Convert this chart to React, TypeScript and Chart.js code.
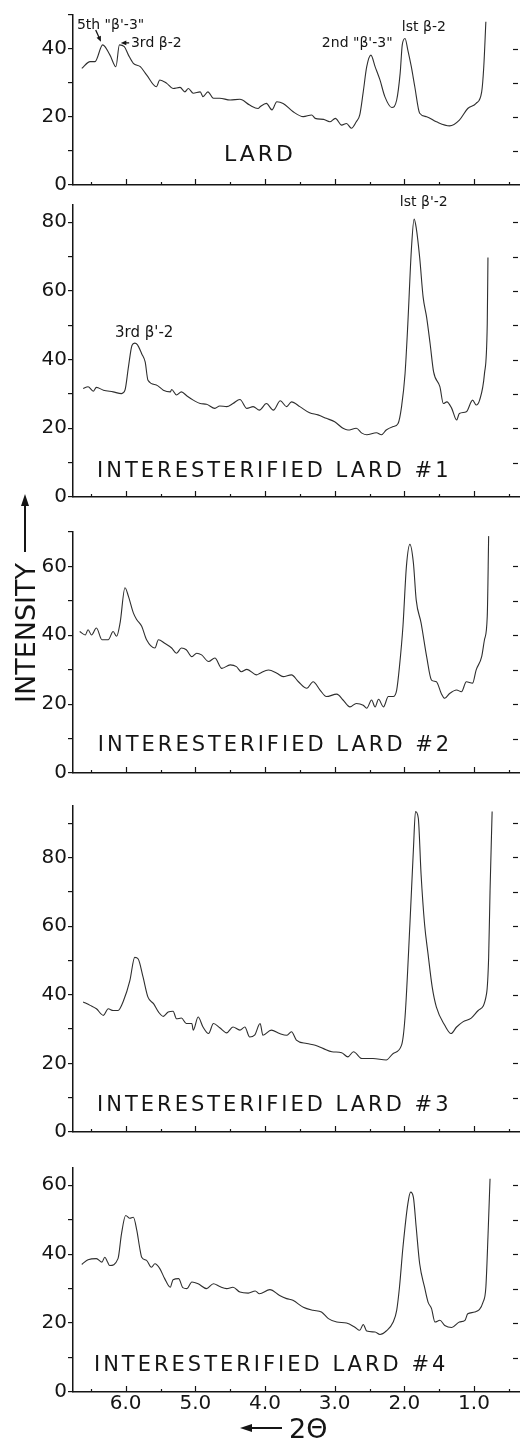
import React, { useEffect, useRef } from 'react';
import { Chart, registerables } from 'chart.js';

Chart.register(...registerables);

// ---------- data (2θ in degrees, intensity) ----------
const lardX = [6.63, 6.51, 6.44, 6.33, 6.225, 6.14, 6.09, 6.02, 5.96, 5.89, 5.79, 5.70, 5.56, 5.51, 5.41, 5.32, 5.22, 5.15, 5.10, 5.03, 4.93, 4.89, 4.82, 4.74, 4.65, 4.50, 4.36, 4.22, 4.10, 4.07, 3.98, 3.90, 3.83, 3.74, 3.60, 3.45, 3.33, 3.28, 3.16, 3.07, 2.99, 2.90, 2.83, 2.76, 2.69, 2.64, 2.59, 2.54, 2.48, 2.42, 2.35, 2.28, 2.18, 2.11, 2.06, 2.03, 1.99, 1.95, 1.90, 1.85, 1.78, 1.68, 1.54, 1.35, 1.21, 1.09, 0.97, 0.89, 0.86, 0.83];
const lardY = [34.3, 36.3, 36.3, 41.2, 38.2, 34.8, 41.2, 40.7, 38.2, 35.8, 34.8, 32.4, 28.9, 30.9, 29.9, 28.4, 28.7, 27.4, 28.4, 27.0, 27.4, 26.0, 27.4, 25.5, 25.5, 25.0, 25.2, 23.5, 22.5, 23.0, 24.0, 22.1, 24.5, 24.0, 21.6, 20.1, 20.6, 19.6, 19.3, 18.6, 19.6, 17.6, 18.1, 16.7, 18.6, 20.6, 27.4, 34.8, 38.2, 34.8, 30.9, 26.0, 22.8, 25.0, 32.9, 41.2, 43.1, 39.7, 34.8, 28.9, 21.1, 20.1, 18.6, 17.4, 19.1, 22.5, 24.0, 27.4, 34.8, 48.0];

const ie1X = [6.61, 6.54, 6.465, 6.42, 6.32, 6.18, 6.06, 6.01, 5.96, 5.91, 5.87, 5.83, 5.77, 5.72, 5.68, 5.56, 5.46, 5.36, 5.34, 5.27, 5.20, 5.12, 5.03, 4.93, 4.84, 4.72, 4.65, 4.55, 4.46, 4.36, 4.26, 4.17, 4.08, 3.98, 3.88, 3.78, 3.69, 3.62, 3.50, 3.36, 3.24, 3.12, 3.00, 2.88, 2.81, 2.69, 2.61, 2.54, 2.40, 2.33, 2.26, 2.16, 2.09, 2.04, 1.99, 1.95, 1.90, 1.86, 1.83, 1.78, 1.73, 1.68, 1.63, 1.58, 1.49, 1.44, 1.39, 1.32, 1.25, 1.21, 1.11, 1.02, 0.97, 0.92, 0.85, 0.81, 0.80];
const ie1Y = [31.6, 32.1, 30.8, 31.9, 31.1, 30.6, 30.1, 31.1, 37.9, 44.1, 44.8, 44.3, 41.7, 39.3, 34.0, 32.6, 31.1, 30.6, 31.3, 29.7, 30.6, 29.4, 28.2, 27.2, 27.0, 25.8, 26.5, 26.3, 27.2, 28.4, 25.8, 26.3, 25.3, 27.2, 25.3, 28.0, 26.3, 27.7, 26.3, 24.5, 23.9, 22.9, 21.9, 20.0, 19.5, 20.0, 18.6, 18.1, 18.7, 18.1, 19.5, 20.5, 21.4, 26.3, 35.9, 50.4, 71.7, 80.9, 78.4, 69.7, 58.1, 52.3, 44.6, 36.4, 32.1, 27.2, 27.7, 25.8, 22.4, 24.3, 24.8, 28.2, 26.8, 28.2, 35.9, 50.4, 69.7];

const ie2X = [6.66, 6.58, 6.54, 6.49, 6.42, 6.34, 6.25, 6.18, 6.13, 6.08, 6.01, 5.96, 5.89, 5.84, 5.77, 5.70, 5.58, 5.53, 5.44, 5.34, 5.27, 5.20, 5.13, 5.05, 4.98, 4.91, 4.81, 4.72, 4.62, 4.50, 4.41, 4.34, 4.26, 4.12, 4.07, 3.95, 3.83, 3.74, 3.62, 3.52, 3.40, 3.31, 3.21, 3.12, 2.97, 2.88, 2.78, 2.69, 2.59, 2.54, 2.47, 2.42, 2.37, 2.30, 2.23, 2.16, 2.11, 2.07, 2.02, 1.97, 1.92, 1.87, 1.83, 1.76, 1.68, 1.61, 1.54, 1.47, 1.42, 1.35, 1.25, 1.18, 1.11, 1.02, 0.97, 0.89, 0.85, 0.81, 0.79];
const ie2Y = [41.1, 40.1, 41.6, 40.1, 42.1, 38.7, 38.7, 41.1, 39.7, 43.6, 53.8, 51.3, 46.5, 44.5, 42.6, 38.7, 36.3, 38.7, 37.7, 36.3, 34.8, 36.3, 35.8, 33.8, 34.8, 34.3, 32.4, 33.4, 30.4, 31.4, 30.9, 29.4, 30.1, 28.5, 29.0, 29.9, 29.0, 28.0, 28.5, 26.5, 24.6, 26.5, 24.1, 22.2, 22.9, 21.2, 19.2, 20.2, 19.7, 18.8, 21.2, 19.2, 21.4, 19.2, 22.2, 22.2, 24.1, 30.9, 42.6, 60.1, 66.4, 61.0, 50.3, 43.6, 33.8, 27.0, 26.5, 23.1, 21.7, 23.1, 24.1, 23.6, 26.5, 26.1, 29.9, 33.8, 38.7, 45.5, 68.8];

const ie3X = [6.61, 6.51, 6.42, 6.32, 6.25, 6.18, 6.11, 6.03, 5.94, 5.87, 5.82, 5.75, 5.68, 5.60, 5.53, 5.46, 5.39, 5.32, 5.27, 5.20, 5.13, 5.05, 5.03, 4.96, 4.89, 4.81, 4.74, 4.65, 4.55, 4.46, 4.36, 4.29, 4.22, 4.15, 4.07, 4.03, 3.91, 3.79, 3.69, 3.62, 3.55, 3.40, 3.28, 3.16, 3.04, 2.90, 2.81, 2.73, 2.61, 2.45, 2.26, 2.16, 2.04, 1.99, 1.92, 1.87, 1.84, 1.80, 1.76, 1.71, 1.66, 1.60, 1.54, 1.42, 1.33, 1.25, 1.16, 1.04, 0.94, 0.82, 0.79, 0.77, 0.74];
const ie3Y = [37.9, 36.9, 35.9, 34.0, 35.9, 35.4, 35.4, 38.3, 44.1, 50.9, 50.4, 45.1, 39.3, 37.4, 35.0, 33.7, 35.0, 35.2, 33.0, 33.2, 31.6, 31.6, 29.7, 33.5, 30.6, 28.7, 31.6, 30.4, 28.9, 30.6, 29.7, 30.6, 27.7, 28.2, 31.6, 28.2, 29.7, 28.7, 28.2, 29.2, 26.8, 25.8, 25.3, 24.3, 23.4, 23.1, 21.9, 23.4, 21.4, 21.4, 21.0, 22.9, 25.3, 33.5, 60.6, 82.3, 93.4, 91.5, 75.1, 60.6, 51.9, 42.2, 36.4, 31.1, 28.7, 30.6, 32.1, 33.2, 35.4, 40.3, 50.9, 70.2, 93.4];

const ie4X = [6.63, 6.54, 6.42, 6.34, 6.30, 6.26, 6.23, 6.11, 6.06, 6.00, 5.94, 5.89, 5.84, 5.80, 5.77, 5.70, 5.63, 5.58, 5.51, 5.44, 5.36, 5.32, 5.24, 5.18, 5.12, 5.05, 4.96, 4.84, 4.74, 4.65, 4.55, 4.46, 4.36, 4.24, 4.14, 4.08, 3.93, 3.79, 3.69, 3.60, 3.45, 3.31, 3.19, 3.09, 2.97, 2.83, 2.71, 2.64, 2.59, 2.54, 2.42, 2.35, 2.26, 2.16, 2.11, 2.07, 2.02, 1.95, 1.91, 1.87, 1.83, 1.78, 1.71, 1.66, 1.61, 1.56, 1.49, 1.42, 1.32, 1.21, 1.13, 1.09, 0.99, 0.87, 0.83, 0.80, 0.77];
const ie4Y = [37.0, 38.4, 38.7, 37.7, 39.1, 37.7, 36.7, 38.7, 45.9, 51.2, 50.4, 50.7, 46.9, 42.0, 39.1, 38.2, 36.2, 37.2, 35.8, 32.9, 30.4, 32.6, 32.9, 30.3, 30.0, 31.9, 31.4, 30.0, 31.4, 30.6, 30.0, 30.4, 29.0, 28.7, 29.3, 28.5, 29.7, 28.0, 27.1, 26.6, 24.6, 23.7, 23.2, 21.3, 20.3, 20.0, 18.8, 17.9, 19.6, 17.7, 17.4, 16.7, 17.7, 20.3, 23.7, 30.4, 42.0, 54.6, 58.0, 56.5, 47.8, 37.2, 30.4, 26.1, 24.2, 20.3, 20.8, 19.3, 18.7, 20.3, 20.8, 22.7, 23.2, 26.1, 30.4, 44.9, 61.9];

const panelNames = ['LARD', 'INTERESTERIFIED LARD #1', 'INTERESTERIFIED LARD #2', 'INTERESTERIFIED LARD #3', 'INTERESTERIFIED LARD #4'];
const yMaxes = [50, 85, 70, 95, 65];
const xTickLabels = [6, 5, 4, 3, 2, 1];
const xTickMarks = [6.5, 6, 5.5, 5, 4.5, 4, 3.5, 3, 2.5, 2, 1.5, 1, 0.5];
const X_MIN = 0.34;
const X_MAX = 6.756;

// ---------- layout (pixels) ----------
const axisTops = [15, 205, 532, 806, 1168];
const axisBottoms = [185, 497, 773, 1132, 1392];
const PAD_TOP = 14;
const Y_AXIS_W = 73;
const FONT = '"DejaVu Sans", sans-serif';
const INK = '#151515';

type Note = { text: string; x: number; y: number; size: number; spacing?: number };
type Arrow = { x1: number; y1: number; x2: number; y2: number };

const panelNotes: Note[][] = [
  [
    { text: '5th "β\'-3"', x: 6.70, y: 47.1, size: 14 },
    { text: '3rd β-2', x: 5.924, y: 41.8, size: 14 },
    { text: '2nd "β\'-3"', x: 3.184, y: 41.8, size: 14 },
    { text: 'lst β-2', x: 2.036, y: 46.5, size: 14 },
    { text: panelNames[0], x: 4.59, y: 8.8, size: 22, spacing: 3 },
  ],
  [
    { text: "lst β'-2", x: 2.065, y: 85.7, size: 14 },
    { text: "3rd β'-2", x: 6.153, y: 47.8, size: 15 },
    { text: panelNames[1], x: 6.41, y: 7.5, size: 21, spacing: 3 },
  ],
  [{ text: panelNames[2], x: 6.40, y: 8.0, size: 21, spacing: 3 }],
  [{ text: panelNames[3], x: 6.41, y: 7.8, size: 21, spacing: 3 }],
  [{ text: panelNames[4], x: 6.455, y: 7.7, size: 21, spacing: 3 }],
];

const panelArrows: Arrow[][] = [
  [
    { x1: 6.43, y1: 45.6, x2: 6.355, y2: 42.1 },
    { x1: 5.95, y1: 41.8, x2: 6.07, y2: 41.8 },
  ],
  [],
  [],
  [],
  [],
];

const seriesX = [lardX, ie1X, ie2X, ie3X, ie4X];
const seriesY = [lardY, ie1Y, ie2Y, ie3Y, ie4Y];

function drawArrow(ctx: CanvasRenderingContext2D, x1: number, y1: number, x2: number, y2: number, head: number) {
  const a = Math.atan2(y2 - y1, x2 - x1);
  ctx.beginPath();
  ctx.moveTo(x1, y1);
  ctx.lineTo(x2 - Math.cos(a) * head * 0.6, y2 - Math.sin(a) * head * 0.6);
  ctx.stroke();
  ctx.beginPath();
  ctx.moveTo(x2, y2);
  ctx.lineTo(x2 - head * Math.cos(a - 0.4), y2 - head * Math.sin(a - 0.4));
  ctx.lineTo(x2 - head * Math.cos(a + 0.4), y2 - head * Math.sin(a + 0.4));
  ctx.closePath();
  ctx.fill();
}

function Panel({ idx }: { idx: number }) {
  const ref = useRef<HTMLCanvasElement | null>(null);
  const isLast = idx === 4;
  const bottomSpace = isLast ? 26 : 8;
  const height = PAD_TOP + (axisBottoms[idx] - axisTops[idx]) + bottomSpace;

  useEffect(() => {
    const canvas = ref.current;
    if (!canvas) return;
    const yMax = yMaxes[idx];
    const notes = panelNotes[idx];
    const arrows = panelArrows[idx];
    const xs = seriesX[idx];
    const ys = seriesY[idx];

    const decor = {
      id: 'decor' + idx,
      afterDraw(chart: any) {
        const ctx: CanvasRenderingContext2D = chart.ctx;
        const xs_ = chart.scales.x;
        const ys_ = chart.scales.y;
        const area = chart.chartArea;
        ctx.save();
        ctx.strokeStyle = INK;
        ctx.fillStyle = INK;
        ctx.lineWidth = 1.2;
        // inward ticks on the 2θ axis
        xTickMarks.forEach((v) => {
          const px = Math.round(xs_.getPixelForValue(v)) + 0.5;
          const len = Number.isInteger(v) ? 6 : 3;
          ctx.beginPath();
          ctx.moveTo(px, area.bottom);
          ctx.lineTo(px, area.bottom - len);
          ctx.stroke();
        });
        // right-hand frame ticks
        for (let v = 10; v < yMax; v += 10) {
          const py = Math.round(ys_.getPixelForValue(v)) + 0.5;
          ctx.beginPath();
          ctx.moveTo(area.right - 7, py);
          ctx.lineTo(area.right - 2, py);
          ctx.stroke();
        }
        // arrows
        ctx.lineWidth = 1.3;
        arrows.forEach((a) => {
          drawArrow(ctx, xs_.getPixelForValue(a.x1), ys_.getPixelForValue(a.y1), xs_.getPixelForValue(a.x2), ys_.getPixelForValue(a.y2), 6);
        });
        // text
        ctx.textBaseline = 'middle';
        ctx.textAlign = 'left';
        notes.forEach((n) => {
          ctx.font = `${n.size}px ${FONT}`;
          (ctx as any).letterSpacing = `${n.spacing || 0}px`;
          ctx.fillText(n.text, xs_.getPixelForValue(n.x), ys_.getPixelForValue(n.y));
        });
        ctx.restore();
      },
    };

    const chart = new Chart(canvas, {
      type: 'line',
      data: {
        datasets: [
          {
            data: xs.map((x, i) => ({ x, y: ys[i] })),
            borderColor: '#2e2e2e',
            borderWidth: 1.1,
            pointRadius: 0,
            fill: false,
            cubicInterpolationMode: 'monotone',
          } as any,
        ],
      },
      options: {
        responsive: false,
        animation: false,
        devicePixelRatio: 1,
        events: [],
        layout: { padding: { top: PAD_TOP, left: 0, right: 0, bottom: 0 } },
        plugins: { legend: { display: false }, tooltip: { enabled: false } },
        scales: {
          x: {
            type: 'linear',
            reverse: true,
            min: X_MIN,
            max: X_MAX,
            afterBuildTicks: (s: any) => {
              s.ticks = xTickLabels.map((v) => ({ value: v }));
            },
            afterFit: (s: any) => {
              s.height = bottomSpace;
              s.paddingLeft = 0;
              s.paddingRight = 0;
            },
            grid: { display: false, drawTicks: false },
            border: { display: true, color: INK, width: 1.5 },
            ticks: {
              display: isLast,
              autoSkip: false,
              maxRotation: 0,
              padding: 0,
              color: INK,
              font: { family: FONT, size: 20 },
              callback: (v: any) => Number(v).toFixed(1),
            },
          },
          y: {
            type: 'linear',
            min: 0,
            max: yMax,
            afterBuildTicks: (s: any) => {
              const t = [];
              for (let v = 0; v <= yMax; v += 10) t.push({ value: v });
              s.ticks = t;
            },
            afterFit: (s: any) => {
              s.width = Y_AXIS_W;
              s.paddingTop = 0;
              s.paddingBottom = 0;
            },
            grid: { drawOnChartArea: false, drawTicks: true, tickLength: 5, color: INK, lineWidth: 1.2 },
            border: { display: true, color: INK, width: 1.5 },
            ticks: {
              autoSkip: false,
              padding: 1,
              color: INK,
              font: { family: FONT, size: 20 },
              callback: (v: any) => (Number(v) % 20 === 0 ? String(v) : ''),
            },
          },
        },
      } as any,
      plugins: [decor],
    });
    return () => chart.destroy();
  }, [idx]);

  return (
    <canvas
      ref={ref}
      width={520}
      height={height}
      style={{ position: 'absolute', left: 0, top: axisTops[idx] - PAD_TOP, width: 520, height }}
    />
  );
}

export default function App() {
  return (
    <div
      style={{
        position: 'absolute',
        left: 0,
        top: 0,
        width: 520,
        height: 1439,
        overflow: 'hidden',
        background: '#fff',
        fontFamily: FONT,
        color: INK,
      }}
    >
      {[0, 1, 2, 3, 4].map((i) => (
        <Panel key={i} idx={i} />
      ))}
      {/* y-axis title with arrow */}
      <svg style={{ position: 'absolute', left: 15, top: 490 }} width={20} height={66}>
        <line x1={10} y1={62} x2={10} y2={12} stroke={INK} strokeWidth={2} />
        <polygon points="10,4 6,16 14,16" fill={INK} />
      </svg>
      <div
        style={{
          position: 'absolute',
          left: 25,
          top: 633,
          transform: 'translate(-50%, -50%) rotate(-90deg)',
          whiteSpace: 'nowrap',
          fontSize: 27,
          lineHeight: 1,
        }}
      >
        INTENSITY
      </div>
      {/* x-axis title with arrow */}
      <svg style={{ position: 'absolute', left: 236, top: 1420 }} width={50} height={16}>
        <line x1={12} y1={8} x2={46} y2={8} stroke={INK} strokeWidth={2.2} />
        <polygon points="4,8 16,4 16,12" fill={INK} />
      </svg>
      <div
        style={{
          position: 'absolute',
          left: 289,
          top: 1428,
          transform: 'translateY(-50%)',
          whiteSpace: 'nowrap',
          fontSize: 27,
          lineHeight: 1,
        }}
      >
        2Θ
      </div>
    </div>
  );
}
